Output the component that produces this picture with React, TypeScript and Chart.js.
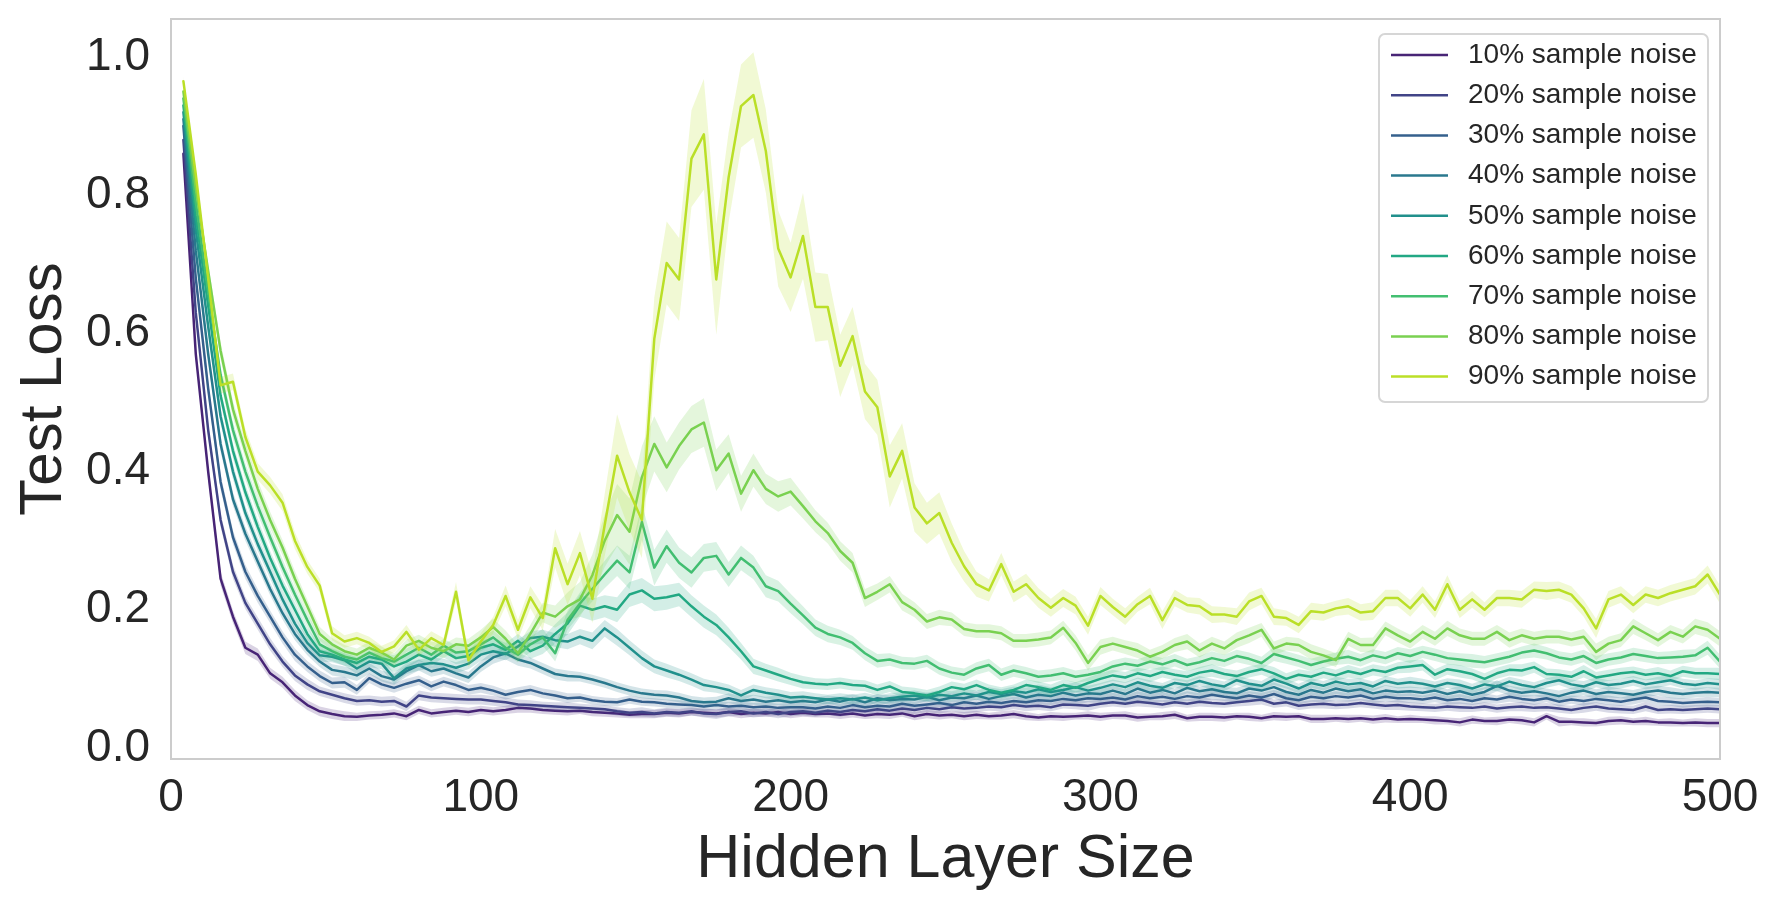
import React, { useEffect, useRef } from 'react';
import { Chart, registerables } from 'chart.js';

Chart.register(...registerables);

// hidden layer sizes on the x axis
const hiddenSizes = [
  4, 8, 12, 16, 20, 24, 28, 32, 36, 40, 44, 48, 52, 56, 60, 64, 68, 72, 76, 80, 84, 88, 92, 96, 100,
  104, 108, 112, 116, 120, 124, 128, 132, 136, 140, 144, 148, 152, 156, 160, 164, 168, 172, 176, 180, 184, 188, 192, 196, 200,
  204, 208, 212, 216, 220, 224, 228, 232, 236, 240, 244, 248, 252, 256, 260, 264, 268, 272, 276, 280, 284, 288, 292, 296, 300,
  304, 308, 312, 316, 320, 324, 328, 332, 336, 340, 344, 348, 352, 356, 360, 364, 368, 372, 376, 380, 384, 388, 392, 396, 400,
  404, 408, 412, 416, 420, 424, 428, 432, 436, 440, 444, 448, 452, 456, 460, 464, 468, 472, 476, 480, 484, 488, 492, 496, 500,
];

const noiseLabels = [
  '10% sample noise', '20% sample noise', '30% sample noise', '40% sample noise', '50% sample noise',
  '60% sample noise', '70% sample noise', '80% sample noise', '90% sample noise',
];

// viridis
const noiseColors = ['#482576', '#414487', '#35608d', '#2a788e', '#21908c', '#22a884', '#43bf71', '#7ad151', '#bbdf27'];

const xTicks = [0, 100, 200, 300, 400, 500];
const yTicks = [0, 0.2, 0.4, 0.6, 0.8, 1.0];

// mean test loss per noise level
const loss10 = [
  0.860, 0.570, 0.400, 0.245, 0.190, 0.145, 0.135, 0.108, 0.095, 0.076, 0.062, 0.053, 0.049, 0.046, 0.045, 0.047, 0.048, 0.050, 0.046, 0.055, 0.050, 0.052, 0.054, 0.052, 0.055,
  0.053, 0.055, 0.058, 0.057, 0.055, 0.054, 0.053, 0.054, 0.052, 0.051, 0.050, 0.048, 0.049, 0.049, 0.051, 0.050, 0.052, 0.051, 0.050, 0.052, 0.049, 0.051, 0.050, 0.052, 0.049,
  0.051, 0.049, 0.050, 0.048, 0.050, 0.047, 0.049, 0.048, 0.050, 0.046, 0.049, 0.047, 0.048, 0.046, 0.048, 0.046, 0.047, 0.049, 0.046, 0.044, 0.046, 0.045, 0.046, 0.047, 0.045,
  0.047, 0.047, 0.044, 0.045, 0.046, 0.048, 0.043, 0.045, 0.045, 0.044, 0.046, 0.045, 0.043, 0.046, 0.045, 0.046, 0.042, 0.042, 0.043, 0.042, 0.043, 0.041, 0.043, 0.041, 0.042,
  0.041, 0.040, 0.039, 0.037, 0.041, 0.039, 0.039, 0.041, 0.040, 0.037, 0.046, 0.038, 0.038, 0.037, 0.036, 0.039, 0.040, 0.038, 0.039, 0.037, 0.037, 0.036, 0.037, 0.036, 0.036,
];
const loss20 = [
  0.880, 0.630, 0.460, 0.330, 0.255, 0.210, 0.180, 0.150, 0.125, 0.105, 0.092, 0.082, 0.077, 0.072, 0.068, 0.069, 0.067, 0.068, 0.060, 0.076, 0.073, 0.072, 0.071, 0.070, 0.070,
  0.068, 0.066, 0.063, 0.062, 0.061, 0.060, 0.059, 0.058, 0.057, 0.056, 0.053, 0.051, 0.052, 0.050, 0.052, 0.051, 0.053, 0.050, 0.049, 0.052, 0.053, 0.050, 0.052, 0.049, 0.052,
  0.053, 0.051, 0.054, 0.052, 0.055, 0.053, 0.056, 0.054, 0.057, 0.055, 0.058, 0.056, 0.059, 0.057, 0.058, 0.060, 0.059, 0.062, 0.060, 0.061, 0.059, 0.063, 0.062, 0.061, 0.064,
  0.066, 0.064, 0.067, 0.065, 0.063, 0.066, 0.064, 0.067, 0.065, 0.064, 0.066, 0.068, 0.070, 0.064, 0.066, 0.061, 0.063, 0.064, 0.062, 0.063, 0.065, 0.063, 0.061, 0.062, 0.060,
  0.059, 0.058, 0.060, 0.059, 0.058, 0.060, 0.057, 0.059, 0.060, 0.058, 0.059, 0.057, 0.055, 0.058, 0.060, 0.057, 0.056, 0.055, 0.060, 0.055, 0.056, 0.055, 0.056, 0.057, 0.056,
];
const loss30 = [
  0.900, 0.680, 0.520, 0.385, 0.305, 0.255, 0.220, 0.190, 0.160, 0.135, 0.118, 0.104, 0.094, 0.095, 0.084, 0.101, 0.092, 0.087, 0.093, 0.098, 0.089, 0.096, 0.091, 0.084, 0.087,
  0.083, 0.077, 0.081, 0.084, 0.079, 0.076, 0.072, 0.073, 0.069, 0.067, 0.066, 0.070, 0.067, 0.066, 0.064, 0.063, 0.062, 0.060, 0.062, 0.060, 0.061, 0.059, 0.060, 0.058, 0.059,
  0.059, 0.057, 0.060, 0.058, 0.062, 0.059, 0.061, 0.060, 0.064, 0.061, 0.063, 0.065, 0.062, 0.066, 0.064, 0.067, 0.065, 0.068, 0.066, 0.069, 0.068, 0.071, 0.069, 0.072, 0.071,
  0.073, 0.070, 0.075, 0.072, 0.074, 0.071, 0.075, 0.073, 0.077, 0.074, 0.072, 0.076, 0.073, 0.078, 0.072, 0.069, 0.074, 0.072, 0.075, 0.073, 0.076, 0.071, 0.074, 0.072, 0.072,
  0.070, 0.073, 0.069, 0.071, 0.068, 0.072, 0.070, 0.074, 0.071, 0.069, 0.072, 0.067, 0.070, 0.068, 0.071, 0.069, 0.067, 0.070, 0.073, 0.068, 0.067, 0.065, 0.066, 0.067, 0.066,
];
const loss40 = [
  0.910, 0.720, 0.570, 0.440, 0.360, 0.310, 0.270, 0.230, 0.195, 0.165, 0.142, 0.125, 0.113, 0.110, 0.105, 0.115, 0.104, 0.099, 0.111, 0.120, 0.111, 0.115, 0.108, 0.102, 0.118,
  0.131, 0.137, 0.128, 0.123, 0.115, 0.107, 0.104, 0.103, 0.099, 0.094, 0.088, 0.083, 0.079, 0.077, 0.076, 0.073, 0.068, 0.066, 0.067, 0.072, 0.068, 0.070, 0.067, 0.069, 0.066,
  0.068, 0.066, 0.070, 0.067, 0.071, 0.066, 0.072, 0.069, 0.071, 0.070, 0.074, 0.069, 0.073, 0.072, 0.076, 0.071, 0.075, 0.078, 0.073, 0.077, 0.075, 0.080, 0.076, 0.079, 0.078,
  0.083, 0.078, 0.086, 0.080, 0.084, 0.079, 0.087, 0.082, 0.085, 0.081, 0.079, 0.086, 0.083, 0.088, 0.081, 0.077, 0.084, 0.080, 0.086, 0.082, 0.085, 0.079, 0.083, 0.081, 0.082,
  0.080, 0.083, 0.078, 0.082, 0.077, 0.081, 0.090, 0.083, 0.080, 0.082, 0.079, 0.075, 0.080, 0.083, 0.078, 0.081, 0.079, 0.077, 0.081, 0.083, 0.080, 0.078, 0.080, 0.081, 0.080,
];
const loss50 = [
  0.920, 0.750, 0.610, 0.480, 0.400, 0.340, 0.295, 0.255, 0.215, 0.180, 0.152, 0.134, 0.132, 0.127, 0.115, 0.125, 0.122, 0.101, 0.115, 0.120, 0.123, 0.121, 0.116, 0.122, 0.135,
  0.140, 0.136, 0.147, 0.159, 0.161, 0.156, 0.154, 0.161, 0.155, 0.173, 0.160, 0.145, 0.130, 0.118, 0.112, 0.106, 0.099, 0.091, 0.088, 0.084, 0.076, 0.084, 0.080, 0.077, 0.073,
  0.074, 0.072, 0.070, 0.072, 0.070, 0.073, 0.069, 0.072, 0.074, 0.076, 0.073, 0.077, 0.075, 0.079, 0.076, 0.081, 0.078, 0.082, 0.080, 0.085, 0.081, 0.084, 0.088, 0.083, 0.087,
  0.092, 0.088, 0.095, 0.090, 0.087, 0.094, 0.091, 0.097, 0.092, 0.089, 0.098, 0.093, 0.090, 0.099, 0.093, 0.086, 0.094, 0.090, 0.096, 0.092, 0.094, 0.089, 0.097, 0.093, 0.095,
  0.093, 0.089, 0.094, 0.091, 0.086, 0.092, 0.089, 0.096, 0.091, 0.088, 0.094, 0.098, 0.092, 0.089, 0.095, 0.091, 0.093, 0.097, 0.092, 0.095, 0.098, 0.093, 0.091, 0.094, 0.092,
];
const loss60 = [
  0.930, 0.770, 0.640, 0.510, 0.430, 0.370, 0.320, 0.275, 0.235, 0.200, 0.165, 0.140, 0.135, 0.128, 0.123, 0.132, 0.128, 0.118, 0.125, 0.135, 0.128, 0.140, 0.130, 0.133, 0.145,
  0.150, 0.142, 0.155, 0.140, 0.148, 0.165, 0.180, 0.206, 0.200, 0.205, 0.200, 0.222, 0.228, 0.216, 0.218, 0.222, 0.205, 0.190, 0.178, 0.160, 0.140, 0.118, 0.112, 0.106, 0.100,
  0.095, 0.093, 0.092, 0.094, 0.091, 0.090, 0.084, 0.089, 0.081, 0.079, 0.076, 0.081, 0.088, 0.085, 0.091, 0.084, 0.080, 0.084, 0.091, 0.088, 0.084, 0.091, 0.087, 0.094, 0.100,
  0.105, 0.102, 0.108, 0.104, 0.110, 0.106, 0.103, 0.109, 0.112, 0.107, 0.104, 0.110, 0.114, 0.108, 0.100, 0.106, 0.103, 0.109, 0.105, 0.111, 0.107, 0.113, 0.110, 0.116, 0.118,
  0.120, 0.106, 0.114, 0.111, 0.107, 0.100, 0.108, 0.113, 0.112, 0.117, 0.107, 0.106, 0.103, 0.111, 0.102, 0.105, 0.108, 0.110, 0.106, 0.108, 0.104, 0.111, 0.108, 0.108, 0.107,
];
const loss70 = [
  0.940, 0.790, 0.660, 0.540, 0.460, 0.400, 0.350, 0.305, 0.262, 0.222, 0.185, 0.150, 0.140, 0.132, 0.128, 0.138, 0.130, 0.125, 0.135, 0.145, 0.135, 0.148, 0.138, 0.140, 0.150,
  0.160, 0.145, 0.135, 0.150, 0.160, 0.137, 0.185, 0.209, 0.230, 0.251, 0.271, 0.254, 0.327, 0.261, 0.292, 0.268, 0.254, 0.275, 0.278, 0.251, 0.275, 0.261, 0.234, 0.227, 0.209,
  0.192, 0.174, 0.165, 0.160, 0.152, 0.137, 0.126, 0.128, 0.123, 0.122, 0.126, 0.115, 0.109, 0.106, 0.115, 0.120, 0.106, 0.112, 0.108, 0.103, 0.105, 0.108, 0.103, 0.106, 0.110,
  0.118, 0.122, 0.119, 0.125, 0.121, 0.127, 0.120, 0.124, 0.130, 0.126, 0.133, 0.129, 0.123, 0.136, 0.131, 0.126, 0.120, 0.125, 0.129, 0.132, 0.127, 0.134, 0.130, 0.137, 0.133,
  0.139, 0.135, 0.130, 0.128, 0.126, 0.124, 0.128, 0.132, 0.138, 0.141, 0.137, 0.131, 0.128, 0.133, 0.123, 0.128, 0.131, 0.136, 0.133, 0.130, 0.131, 0.132, 0.134, 0.145, 0.125,
];
const loss80 = [
  0.950, 0.810, 0.690, 0.575, 0.490, 0.430, 0.375, 0.330, 0.290, 0.245, 0.205, 0.165, 0.150, 0.140, 0.135, 0.145, 0.138, 0.128, 0.148, 0.155, 0.145, 0.140, 0.150, 0.148, 0.160,
  0.175, 0.158, 0.137, 0.165, 0.196, 0.190, 0.205, 0.215, 0.250, 0.300, 0.337, 0.313, 0.392, 0.440, 0.406, 0.437, 0.461, 0.471, 0.402, 0.426, 0.368, 0.402, 0.375, 0.364, 0.371,
  0.350, 0.328, 0.311, 0.285, 0.268, 0.217, 0.226, 0.237, 0.211, 0.200, 0.183, 0.189, 0.186, 0.172, 0.169, 0.169, 0.166, 0.155, 0.155, 0.157, 0.160, 0.174, 0.152, 0.123, 0.146,
  0.151, 0.146, 0.141, 0.132, 0.139, 0.149, 0.154, 0.141, 0.151, 0.144, 0.156, 0.163, 0.171, 0.144, 0.151, 0.149, 0.139, 0.134, 0.127, 0.158, 0.149, 0.149, 0.173, 0.163, 0.154,
  0.168, 0.158, 0.173, 0.163, 0.158, 0.158, 0.168, 0.156, 0.163, 0.158, 0.161, 0.161, 0.157, 0.161, 0.139, 0.151, 0.156, 0.176, 0.166, 0.156, 0.168, 0.161, 0.176, 0.171, 0.158,
];
const loss90 = [
  0.965, 0.830, 0.680, 0.525, 0.530, 0.450, 0.400, 0.380, 0.355, 0.300, 0.262, 0.235, 0.166, 0.154, 0.159, 0.152, 0.139, 0.147, 0.168, 0.142, 0.159, 0.149, 0.226, 0.127, 0.154,
  0.178, 0.220, 0.171, 0.218, 0.188, 0.289, 0.237, 0.282, 0.216, 0.323, 0.423, 0.370, 0.330, 0.592, 0.702, 0.678, 0.853, 0.888, 0.678, 0.826, 0.929, 0.945, 0.864, 0.723, 0.681,
  0.741, 0.638, 0.638, 0.553, 0.596, 0.516, 0.493, 0.393, 0.430, 0.348, 0.325, 0.340, 0.297, 0.263, 0.237, 0.228, 0.266, 0.226, 0.237, 0.217, 0.203, 0.217, 0.206, 0.177, 0.220,
  0.204, 0.190, 0.208, 0.220, 0.185, 0.217, 0.207, 0.205, 0.193, 0.193, 0.190, 0.212, 0.220, 0.190, 0.188, 0.178, 0.198, 0.196, 0.202, 0.205, 0.196, 0.198, 0.217, 0.217, 0.202,
  0.222, 0.200, 0.237, 0.200, 0.215, 0.200, 0.217, 0.217, 0.215, 0.229, 0.227, 0.229, 0.222, 0.202, 0.173, 0.215, 0.222, 0.207, 0.222, 0.217, 0.224, 0.229, 0.234, 0.251, 0.222,
];

// half width of the confidence band, in thousandths of loss
const ci10 = [
  5, 9, 10, 10, 9, 9, 9, 8, 8, 8, 7, 7, 7, 7, 6, 6, 6, 6, 6, 6, 6, 6, 6, 6, 6,
  6, 6, 7, 6, 6, 6, 6, 5, 6, 6, 6, 5, 6, 6, 6, 6, 5, 6, 6, 6, 6, 6, 5, 6, 6,
  6, 5, 6, 6, 6, 5, 6, 6, 5, 6, 6, 6, 5, 6, 6, 5, 6, 6, 6, 5, 6, 6, 5, 6, 6,
  5, 6, 6, 5, 6, 6, 5, 6, 6, 6, 5, 6, 5, 6, 6, 5, 6, 6, 5, 6, 5, 6, 6, 5, 6,
  5, 6, 5, 6, 6, 5, 6, 5, 6, 6, 5, 7, 5, 6, 5, 6, 6, 5, 6, 5, 6, 5, 6, 6, 6,
];
const ci20 = [
  5, 9, 10, 10, 10, 9, 9, 9, 8, 8, 8, 7, 7, 7, 7, 7, 7, 7, 7, 7, 7, 7, 7, 7, 7,
  7, 7, 7, 7, 6, 6, 7, 6, 6, 6, 6, 6, 7, 6, 6, 6, 6, 6, 7, 6, 6, 6, 6, 6, 6,
  6, 6, 6, 7, 6, 6, 6, 6, 7, 6, 6, 6, 6, 7, 6, 6, 6, 6, 7, 6, 6, 6, 6, 7, 6,
  6, 6, 7, 6, 6, 6, 6, 7, 6, 6, 6, 7, 7, 6, 6, 6, 6, 7, 6, 6, 6, 6, 6, 7, 6,
  6, 6, 6, 7, 6, 6, 6, 6, 7, 6, 6, 6, 6, 7, 6, 6, 6, 6, 7, 6, 6, 6, 6, 6, 6,
];
const ci30 = [
  5, 10, 11, 11, 10, 10, 10, 9, 9, 9, 8, 8, 8, 8, 7, 7, 7, 7, 7, 7, 7, 7, 7, 7, 7,
  7, 7, 7, 7, 7, 7, 7, 6, 6, 6, 6, 6, 6, 6, 6, 6, 6, 6, 6, 6, 6, 6, 6, 6, 6,
  6, 6, 7, 6, 6, 6, 7, 6, 6, 6, 7, 6, 6, 6, 7, 6, 6, 6, 7, 6, 6, 6, 7, 6, 6,
  7, 6, 7, 6, 7, 6, 7, 6, 7, 6, 7, 6, 7, 6, 7, 6, 7, 6, 7, 6, 7, 6, 7, 6, 7,
  6, 7, 6, 7, 6, 7, 6, 7, 6, 7, 6, 7, 6, 7, 6, 7, 6, 7, 6, 7, 6, 7, 6, 7, 6,
];
const ci40 = [
  6, 10, 11, 11, 10, 10, 10, 9, 9, 9, 8, 8, 8, 8, 8, 8, 8, 8, 8, 8, 8, 8, 8, 8, 8,
  9, 9, 9, 8, 8, 8, 8, 7, 7, 7, 7, 7, 7, 7, 7, 7, 7, 7, 7, 7, 7, 7, 7, 7, 7,
  7, 7, 6, 7, 7, 7, 6, 7, 7, 7, 6, 7, 7, 7, 6, 7, 7, 7, 6, 7, 7, 7, 6, 7, 7,
  7, 7, 8, 7, 7, 7, 8, 7, 7, 7, 8, 7, 7, 7, 8, 7, 7, 7, 8, 7, 7, 7, 8, 7, 7,
  7, 7, 7, 8, 7, 7, 8, 7, 7, 7, 7, 8, 7, 7, 7, 8, 7, 7, 7, 7, 8, 7, 7, 7, 7,
];
const ci50 = [
  6, 10, 11, 11, 11, 10, 10, 10, 10, 9, 9, 9, 8, 8, 8, 8, 8, 8, 8, 8, 8, 8, 8, 8, 9,
  9, 9, 10, 10, 10, 10, 11, 11, 12, 12, 12, 11, 11, 10, 10, 9, 9, 9, 8, 8, 8, 8, 8, 8, 8,
  8, 7, 7, 7, 7, 7, 7, 7, 7, 7, 7, 7, 7, 7, 7, 7, 7, 7, 7, 7, 7, 7, 7, 7, 7,
  7, 7, 7, 8, 7, 7, 7, 7, 8, 7, 7, 7, 7, 8, 7, 7, 7, 7, 7, 8, 7, 7, 7, 7, 8,
  7, 7, 7, 8, 7, 7, 7, 7, 8, 7, 7, 7, 7, 8, 7, 7, 7, 7, 7, 8, 7, 7, 7, 7, 8,
];
const ci60 = [
  6, 10, 11, 11, 11, 11, 11, 10, 10, 10, 9, 9, 9, 9, 8, 8, 8, 8, 9, 9, 9, 9, 9, 9, 10,
  10, 10, 10, 11, 12, 14, 16, 16, 16, 16, 18, 18, 18, 18, 18, 17, 16, 16, 15, 14, 12, 11, 10, 10, 9,
  9, 8, 8, 8, 8, 8, 8, 8, 8, 8, 8, 8, 8, 8, 8, 8, 8, 8, 8, 8, 8, 8, 8, 8, 8,
  8, 8, 8, 9, 8, 8, 8, 8, 9, 8, 8, 8, 8, 9, 8, 8, 8, 8, 8, 9, 8, 8, 8, 8, 9,
  8, 8, 8, 9, 8, 8, 8, 8, 9, 8, 8, 8, 8, 9, 8, 8, 8, 8, 8, 9, 8, 8, 8, 8, 9,
];
const ci70 = [
  6, 10, 12, 12, 12, 12, 12, 11, 11, 10, 10, 10, 9, 9, 9, 9, 9, 9, 9, 9, 9, 10, 10, 10, 10,
  10, 10, 11, 11, 12, 12, 14, 16, 18, 20, 22, 24, 26, 26, 24, 22, 22, 20, 20, 18, 18, 17, 16, 15, 14,
  13, 12, 12, 11, 10, 10, 10, 9, 9, 9, 9, 9, 9, 9, 9, 9, 9, 9, 9, 9, 9, 9, 9, 9, 9,
  9, 9, 9, 10, 9, 9, 9, 9, 10, 9, 9, 9, 9, 10, 9, 9, 9, 9, 9, 10, 9, 9, 9, 9, 10,
  9, 9, 9, 9, 10, 9, 9, 9, 9, 10, 9, 9, 9, 9, 10, 9, 9, 9, 9, 9, 9, 10, 9, 10, 10,
];
const ci80 = [
  6, 10, 12, 12, 12, 12, 12, 12, 11, 11, 10, 10, 9, 9, 9, 9, 9, 9, 9, 9, 9, 10, 10, 10, 11,
  12, 12, 12, 13, 14, 16, 20, 25, 30, 38, 45, 48, 45, 40, 36, 34, 34, 35, 30, 28, 26, 24, 22, 22, 20,
  18, 16, 15, 14, 14, 13, 12, 12, 12, 11, 11, 11, 10, 10, 10, 10, 10, 10, 10, 10, 10, 10, 11, 11, 11,
  10, 10, 11, 10, 10, 10, 11, 10, 10, 10, 11, 11, 10, 10, 10, 10, 11, 10, 10, 10, 10, 11, 10, 10, 10,
  10, 10, 11, 10, 10, 10, 10, 11, 10, 10, 10, 10, 10, 11, 12, 10, 10, 11, 10, 10, 10, 10, 11, 11, 11,
];
const ci90 = [
  6, 10, 12, 12, 12, 12, 12, 12, 12, 12, 10, 10, 10, 9, 9, 9, 9, 9, 10, 9, 10, 10, 14, 10, 12,
  12, 15, 14, 16, 18, 28, 30, 32, 35, 45, 60, 55, 55, 60, 60, 60, 70, 80, 80, 65, 60, 62, 60, 55, 50,
  62, 50, 48, 45, 42, 40, 40, 45, 40, 35, 30, 30, 28, 22, 18, 16, 16, 15, 15, 14, 13, 13, 13, 13, 13,
  12, 12, 11, 12, 13, 12, 11, 12, 12, 11, 12, 13, 12, 12, 11, 12, 12, 12, 11, 12, 12, 13, 12, 12, 12,
  12, 12, 13, 12, 12, 11, 12, 12, 12, 12, 13, 12, 12, 12, 14, 12, 12, 12, 12, 12, 12, 12, 12, 13, 13,
];

const lossSeries = [loss10, loss20, loss30, loss40, loss50, loss60, loss70, loss80, loss90];
const ciSeries = [ci10, ci20, ci30, ci40, ci50, ci60, ci70, ci80, ci90];

const FONT = "'Liberation Sans', Arial, sans-serif";
const TEXT = '#262626';

const rgba = (hex: string, a: number) => {
  const n = parseInt(hex.slice(1), 16);
  return `rgba(${(n >> 16) & 255}, ${(n >> 8) & 255}, ${n & 255}, ${a})`;
};

// keep Chart.js from reserving extra room for the edge labels
const noScalePadding = (scale: any) => {
  scale.paddingTop = 0;
  scale.paddingBottom = 0;
  scale.paddingLeft = 0;
  scale.paddingRight = 0;
};

// frame around the axes and the boxed legend in the upper right
const frameAndLegend = {
  id: 'frameAndLegend',
  afterDraw(chart: any) {
    const { ctx, chartArea: a } = chart;
    ctx.save();
    ctx.strokeStyle = '#cccccc';
    ctx.lineWidth = 2;
    ctx.strokeRect(a.left, a.top, a.right - a.left, a.bottom - a.top);

    const bw = 329;
    const bh = 368;
    const bx = a.right - 12 - bw;
    const by = a.top + 15;
    ctx.fillStyle = 'rgba(255,255,255,0.8)';
    ctx.beginPath();
    ctx.roundRect(bx, by, bw, bh, 6);
    ctx.fill();
    ctx.strokeStyle = '#d6d6d6';
    ctx.lineWidth = 2;
    ctx.stroke();

    ctx.font = `28px ${FONT}`;
    ctx.textAlign = 'left';
    ctx.textBaseline = 'middle';
    noiseLabels.forEach((label, i) => {
      const y = by + 21 + i * 40.2;
      ctx.strokeStyle = noiseColors[i];
      ctx.lineWidth = 2.5;
      ctx.beginPath();
      ctx.moveTo(bx + 12, y);
      ctx.lineTo(bx + 69, y);
      ctx.stroke();
      ctx.fillStyle = TEXT;
      ctx.fillText(label, bx + 89, y);
    });
    ctx.restore();
  },
};

export default function App() {
  const canvasRef = useRef<HTMLCanvasElement>(null);

  useEffect(() => {
    const canvas = canvasRef.current;
    if (!canvas) return;

    // 90% first so it is drawn on top, as in the source figure
    const datasets: any[] = [];
    for (let s = lossSeries.length - 1; s >= 0; s--) {
      const vals = lossSeries[s];
      const ci = ciSeries[s];
      const color = noiseColors[s];
      const lowerIndex = datasets.length;
      datasets.push({
        label: noiseLabels[s] + ' low',
        data: hiddenSizes.map((x, j) => ({ x, y: vals[j] - ci[j] / 1000 })),
        borderWidth: 0,
        pointRadius: 0,
        fill: false,
      });
      datasets.push({
        label: noiseLabels[s] + ' high',
        data: hiddenSizes.map((x, j) => ({ x, y: vals[j] + ci[j] / 1000 })),
        borderWidth: 0,
        pointRadius: 0,
        backgroundColor: rgba(color, 0.2),
        fill: { target: lowerIndex },
      });
      datasets.push({
        label: noiseLabels[s],
        data: hiddenSizes.map((x, j) => ({ x, y: vals[j] })),
        borderColor: color,
        borderWidth: 2.5,
        pointRadius: 0,
        fill: false,
      });
    }

    const chart = new Chart(canvas, {
      type: 'line',
      data: { datasets },
      plugins: [frameAndLegend],
      options: {
        animation: false,
        responsive: false,
        devicePixelRatio: 1,
        layout: { padding: { top: 19, right: 60, bottom: 0, left: 0 } },
        elements: {
          line: { tension: 0, borderJoinStyle: 'round', borderCapStyle: 'round' },
          point: { radius: 0 },
        },
        plugins: {
          legend: { display: false },
          tooltip: { enabled: false },
        },
        scales: {
          x: {
            type: 'linear',
            min: 0,
            max: 500,
            grid: { display: false, drawTicks: false },
            border: { display: false },
            afterBuildTicks: (scale: any) => {
              scale.ticks = xTicks.map((v) => ({ value: v }));
            },
            afterFit: (scale: any) => {
              scale.height = 149;
              noScalePadding(scale);
            },
            ticks: {
              color: TEXT,
              font: { family: FONT, size: 46 },
              padding: 12,
              maxRotation: 0,
              autoSkip: false,
              callback: (v: any) => String(v),
            },
            title: {
              display: true,
              text: 'Hidden Layer Size',
              color: TEXT,
              font: { family: FONT, size: 61, lineHeight: 1 },
              padding: { top: 0, bottom: 17 },
            },
          },
          y: {
            type: 'linear',
            min: -0.016,
            max: 1.055,
            grid: { display: false, drawTicks: false },
            border: { display: false },
            afterBuildTicks: (scale: any) => {
              scale.ticks = yTicks.map((v) => ({ value: v }));
            },
            afterFit: (scale: any) => {
              scale.width = 171;
              noScalePadding(scale);
            },
            ticks: {
              color: TEXT,
              font: { family: FONT, size: 46 },
              padding: 21,
              autoSkip: false,
              callback: (v: any) => Number(v).toFixed(1),
            },
            title: {
              display: true,
              text: 'Test Loss',
              color: TEXT,
              font: { family: FONT, size: 60, lineHeight: 1 },
              padding: { top: 14, bottom: 0 },
            },
          },
        },
      },
    });

    return () => chart.destroy();
  }, []);

  return (
    <div style={{ position: 'fixed', left: 0, top: 0, width: 1780, height: 908, background: '#fff' }}>
      <canvas ref={canvasRef} width={1780} height={908} style={{ display: 'block' }} />
    </div>
  );
}
